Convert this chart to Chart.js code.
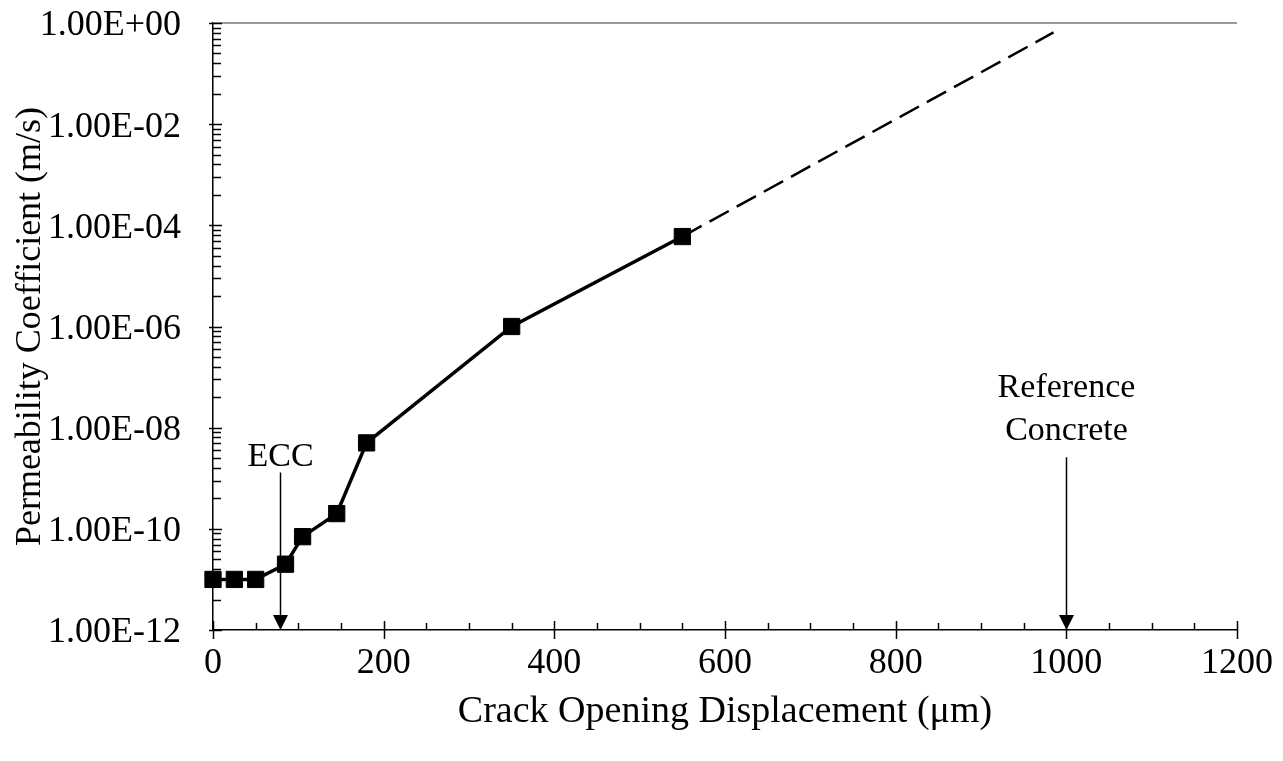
<!DOCTYPE html>
<html>
<head>
<meta charset="utf-8">
<script src="https://cdn.jsdelivr.net/npm/chart.js@4.4.1/dist/chart.umd.min.js"></script>
<style>
html, body { margin: 0; padding: 0; background: #fff; }
#wrap { width: 1283px; height: 761px; }
</style>
</head>
<body>
<div id="wrap"><canvas id="grafico"></canvas></div>
<script>
// valores
const aberturas = [0, 25, 50, 85, 105, 145, 180, 350, 550];   // COD (um)
const permeabilidad = [1e-11, 1e-11, 1e-11, 2e-11, 7e-11, 2e-10, 5e-9, 1e-6, 6e-5];
const extrapolacionX = [550, 985];
const extrapolacionY = [6e-5, 0.65];
const ticksY = [1e-12, 1e-10, 1e-8, 1e-6, 1e-4, 1e-2, 1];
const ticksX = [0, 200, 400, 600, 800, 1000, 1200];
const notas = [
    { texto: ['ECC'], x: 78, desde: 1.3e-9 },
    { texto: ['Reference', 'Concrete'], x: 1000, desde: 2.6e-9 }
];

const fuente = '"Liberation Serif", "Times New Roman", serif';
const huecos = [6, 17];   // separacion texto-flecha

function formatoE(v) {
    const e = Math.round(Math.log10(v));
    const m = v / Math.pow(10, e);
    return m.toFixed(2) + 'E' + (e < 0 ? '-' : '+') + String(Math.abs(e)).padStart(2, '0');
}

const marcas = {
    id: 'marcas',
    beforeDatasetsDraw(chart) {
        const { ctx, chartArea: a, scales: { x, y } } = chart;
        ctx.save();
        // linea superior gris
        ctx.strokeStyle = '#999';
        ctx.lineWidth = 2;
        ctx.beginPath();
        ctx.moveTo(a.left, a.top);
        ctx.lineTo(a.right, a.top);
        ctx.stroke();

        ctx.strokeStyle = '#000';
        ctx.lineWidth = 1.5;
        ctx.beginPath();
        // marcas menores eje x
        for (let v = 50; v < 1200; v += 50) {
            if (v % 200 === 0) continue;
            const px = Math.round(x.getPixelForValue(v)) + 0.5;
            ctx.moveTo(px, a.bottom);
            ctx.lineTo(px, a.bottom - 7);
        }
        ticksX.forEach(v => {
            const px = Math.round(x.getPixelForValue(v)) + 0.5;
            ctx.moveTo(px, a.bottom + 9);
            ctx.lineTo(px, a.bottom - 9);
        });
        // marcas menores eje y (escala de 2 decadas)
        for (let i = 0; i < ticksY.length - 1; i++) {
            for (let k = 2; k <= 9; k++) {
                const py = Math.round(y.getPixelForValue(ticksY[i] * k * k)) + 0.5;
                ctx.moveTo(a.left, py);
                ctx.lineTo(a.left + 8, py);
            }
        }
        ticksY.forEach(v => {
            const py = Math.round(y.getPixelForValue(v)) + 0.5;
            ctx.moveTo(a.left - 4, py);
            ctx.lineTo(a.left + 9, py);
        });
        ctx.stroke();
        ctx.restore();
    },
    afterDatasetsDraw(chart) {
        const { ctx, chartArea: a, scales: { x, y } } = chart;
        ctx.save();
        ctx.fillStyle = '#000';
        ctx.strokeStyle = '#000';
        ctx.lineWidth = 1.5;
        ctx.font = '34px ' + fuente;
        ctx.textAlign = 'center';
        ctx.textBaseline = 'alphabetic';
        notas.forEach((n, j) => {
            const px = Math.round(x.getPixelForValue(n.x)) + 0.5;
            const top = y.getPixelForValue(n.desde);
            ctx.beginPath();
            ctx.moveTo(px, top);
            ctx.lineTo(px, a.bottom - 12);
            ctx.stroke();
            ctx.beginPath();
            ctx.moveTo(px - 7.5, a.bottom - 15);
            ctx.lineTo(px + 7.5, a.bottom - 15);
            ctx.lineTo(px, a.bottom);
            ctx.closePath();
            ctx.fill();
            const lineas = n.texto;
            lineas.forEach((t, i) => {
                ctx.fillText(t, px, top - huecos[j] - (lineas.length - 1 - i) * 43);
            });
        });
        ctx.restore();
    }
};

window.addEventListener('DOMContentLoaded', () => {
    const ctx = document.getElementById('grafico').getContext('2d');
    new Chart(ctx, {
        type: 'line',
        data: {
            datasets: [{
                label: 'Permeability',
                data: aberturas.map((v, i) => ({ x: v, y: permeabilidad[i] })),
                borderColor: '#000',
                backgroundColor: '#000',
                borderWidth: 3.5,
                pointStyle: 'rect',
                pointRadius: 11.5,
                pointBorderWidth: 1,
                pointHoverRadius: 11.5,
                tension: 0,
                clip: false
            }, {
                label: 'Extrapolation',
                data: extrapolacionX.map((v, i) => ({ x: v, y: extrapolacionY[i] })),
                borderColor: '#000',
                borderWidth: 2.5,
                borderDash: [22, 9],
                pointRadius: 0,
                tension: 0,
                clip: false
            }]
        },
        options: {
            responsive: true,
            maintainAspectRatio: false,
            animation: false,
            layout: { padding: { left: 0, right: 46, top: 23, bottom: 26 } },
            plugins: {
                legend: { display: false },
                tooltip: { enabled: false }
            },
            scales: {
                x: {
                    type: 'linear',
                    min: 0,
                    max: 1200,
                    afterBuildTicks: s => { s.ticks = ticksX.map(v => ({ value: v })); },
                    afterFit: s => {
                        s.height = 761 - 630 - 26;
                        s.paddingLeft = 0;
                        s.paddingRight = 0;
                    },
                    grid: { display: false, drawTicks: false },
                    border: { color: '#000', width: 1.5 },
                    ticks: {
                        color: '#000',
                        padding: 12,
                        maxRotation: 0,
                        callback: v => String(v),
                        font: { family: fuente, size: 36 }
                    },
                    title: {
                        display: true,
                        text: 'Crack Opening Displacement (\u03bcm)',
                        color: '#000',
                        padding: 0,
                        font: { family: fuente, size: 38 }
                    }
                },
                y: {
                    type: 'logarithmic',
                    min: 1e-12,
                    max: 1,
                    afterBuildTicks: s => { s.ticks = ticksY.map(v => ({ value: v })); },
                    afterFit: s => {
                        s.width = 213;
                        s.paddingTop = 0;
                        s.paddingBottom = 0;
                    },
                    grid: { display: false, drawTicks: false },
                    border: { color: '#000', width: 1.5 },
                    ticks: {
                        color: '#000',
                        padding: 32,
                        labelOffset: 3,
                        callback: v => formatoE(v),
                        font: { family: fuente, size: 36 }
                    },
                    title: {
                        display: true,
                        text: 'Permeability Coefficient (m/s)',
                        color: '#000',
                        padding: { top: 9, bottom: 0 },
                        font: { family: fuente, size: 36 }
                    }
                }
            }
        },
        plugins: [marcas]
    });
});
</script>
</body>
</html>
